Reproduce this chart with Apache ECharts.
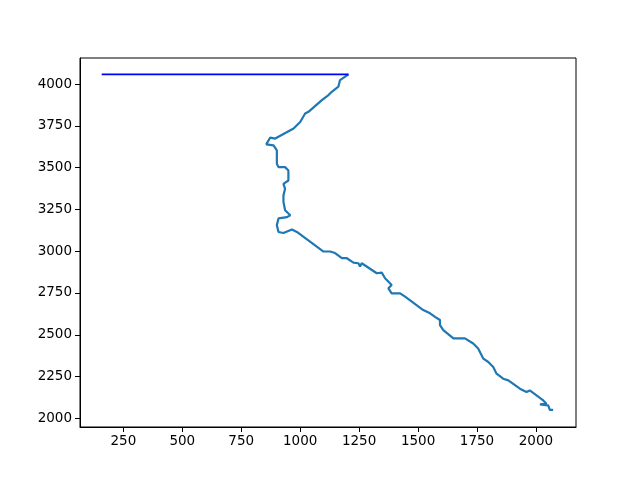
<!DOCTYPE html>
<html>
<head>
<meta charset="utf-8">
<script src="https://cdn.jsdelivr.net/npm/echarts@6/dist/echarts.min.js"></script>
<style>html,body{margin:0;padding:0;background:#fff}#c{width:640px;height:480px}</style>
</head>
<body>
<div id="c"></div>
<script>
const pathX = [1205,1169,1162,1134,1120,1092,1085,1035,1021,1000,972,894,873,856,887,901,901,908,936,950,950,929,936,929,929,936,958,944,908,901,908,929,965,986,1099,1127,1148,1177,1198,1226,1247,1254,1261,1325,1346,1360,1388,1374,1388,1424,1445,1522,1551,1572,1593,1593,1607,1650,1699,1734,1755,1777,1798,1819,1833,1861,1883,1932,1960,1974,2031,2045,2017,2052,2059,2073];
const pathY = [4058,4024,3984,3954,3934,3904,3894,3834,3824,3773,3734,3674,3680,3639,3633,3603,3523,3503,3503,3483,3423,3403,3373,3334,3295,3245,3215,3204,3196,3156,3115,3109,3130,3115,2998,2998,2989,2958,2958,2932,2928,2908,2928,2868,2872,2838,2798,2778,2748,2748,2728,2648,2628,2607,2588,2558,2528,2478,2478,2448,2418,2357,2337,2307,2267,2237,2227,2177,2157,2167,2107,2087,2083,2077,2051,2051];
const refX = [158, 1205];
const refY = [4058, 4058];
const xTicks = [250,500,750,1000,1250,1500,1750,2000];
const yTicks = [2000,2250,2500,2750,3000,3250,3500,3750,4000];

const chart = echarts.init(document.getElementById('c'), null, {renderer:'canvas'});
const font = {color:'#000', fontFamily:'DejaVu Sans', fontSize:13.5};
function axis(ticks, min, max, isX){
  return {
    type:'value', min:min, max:max, scale:true,
    axisLine:{show:true, onZero:false, lineStyle:{color:'#000', width:1}},
    axisTick:{show:true, length:5, lineStyle:{color:'#000', width:1}, customValues:ticks},
    axisLabel:Object.assign({margin: isX?7:8, customValues:ticks, formatter:v=>String(v)}, font),
    splitLine:{show:false}
  };
}
chart.setOption({
  animation:false,
  grid:{left:80, right:64, top:58, bottom:53, show:true, borderColor:'#000', borderWidth:1, containLabel:false},
  xAxis: axis(xTicks, 66, 2170, true),
  yAxis: axis(yTicks, 1948, 4156, false),
  series:[
    {type:'line', data:pathX.map((x,i)=>[x,pathY[i]]), showSymbol:false, lineStyle:{color:'#1f77b4', width:2.2}, z:2},
    {type:'line', data:refX.map((x,i)=>[x,refY[i]]), showSymbol:false, lineStyle:{color:'#0000ff', width:1.8}, z:3}
  ]
});
</script>
</body>
</html>
